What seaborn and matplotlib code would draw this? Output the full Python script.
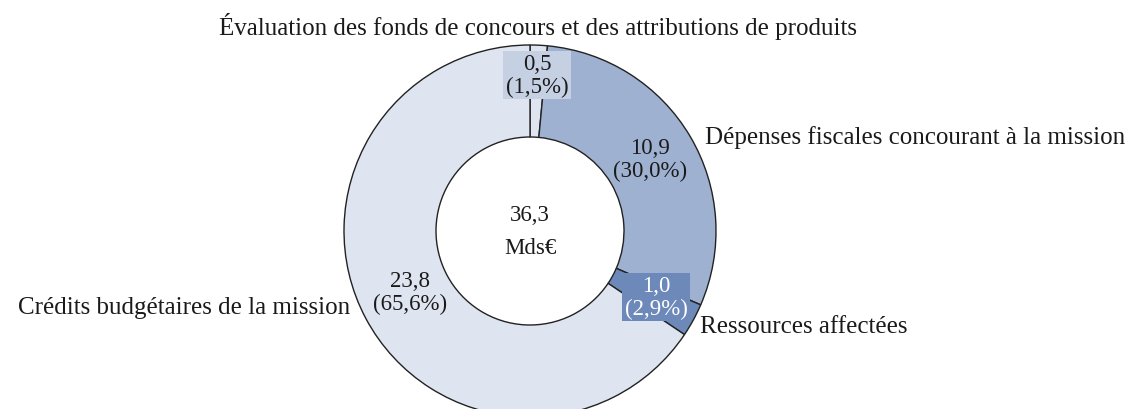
import matplotlib.pyplot as plt
import seaborn as sns

# Data
categories = [
    "Évaluation des fonds de concours et des attributions de produits",
    "Dépenses fiscales concourant à la mission",
    "Ressources affectées",
    "Crédits budgétaires de la mission",
]
values = [0.5, 10.9, 1.0, 23.8]
shares = [1.5, 30.0, 2.9, 65.6]
total = 36.3
unit = "Mds€"
colors = ["#dfe5f0", "#9fb1d0", "#6c89b9", "#dfe5f0"]

sns.set_theme(style="white")
plt.rcParams['font.family'] = ['Liberation Serif', 'DejaVu Serif']


def fr(x):
    return f"{x:.1f}".replace('.', ',')


W, H = 1131, 410
fig = plt.figure(figsize=(W / 100, H / 100), dpi=100)
ax = fig.add_axes([0, 0, 1, 1])

cx, cy, R = 530, H - 232, 186
ax.pie(shares, colors=colors, startangle=90, counterclock=False,
       center=(cx, cy), radius=R, frame=True,
       wedgeprops=dict(width=92, edgecolor="#222222", linewidth=1.0))
ax.set_xlim(0, W)
ax.set_ylim(0, H)
ax.set_aspect('equal')
ax.axis('off')

fs_cat = 18
fs_val = 16.5
txt = "#1a1a1a"

# value labels (pixel positions from the reference, y flipped)
lab = [fr(v) + "\n(" + fr(s) + "%)" for v, s in zip(values, shares)]
ax.text(537, H - 76, lab[0], ha='center', va='center', fontsize=fs_val, color=txt,
        linespacing=1.08,
        bbox=dict(boxstyle='square,pad=0.1', fc="#c6d0e3", ec='none'))
ax.text(650, H - 160, lab[1], ha='center', va='center', fontsize=fs_val, color=txt,
        linespacing=1.08)
ax.text(656, H - 298, lab[2], ha='center', va='center', fontsize=fs_val, color='white',
        linespacing=1.08,
        bbox=dict(boxstyle='square,pad=0.1', fc=colors[2], ec='none'))
ax.text(410, H - 293, lab[3], ha='center', va='center', fontsize=fs_val, color=txt,
        linespacing=1.08)

# centre
ax.text(cx, cy, fr(total) + "\n" + unit, ha='center', va='center', fontsize=fs_val,
        color=txt, linespacing=1.7)

# category labels
ax.text(538, H - 27, categories[0], ha='center', va='center', fontsize=fs_cat, color=txt)
ax.text(705, H - 138, categories[1], ha='left', va='center', fontsize=fs_cat, color=txt)
ax.text(700, H - 327, categories[2], ha='left', va='center', fontsize=fs_cat, color=txt)
ax.text(350, H - 308, categories[3], ha='right', va='center', fontsize=fs_cat, color=txt)

fig.savefig("out.png", dpi=100)
